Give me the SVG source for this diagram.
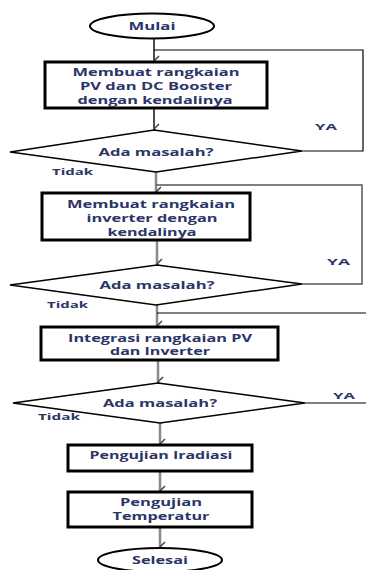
<svg xmlns="http://www.w3.org/2000/svg" width="366" height="570" viewBox="0 0 366 570">
<defs>
<style>
.bg{fill:#fff}
.box{fill:#fff;stroke:#000;stroke-width:3}
.term{fill:#fff;stroke:#000;stroke-width:2}
.dia{fill:#fff;stroke:#000;stroke-width:1.5}
.t{font-family:"Open Sans","Liberation Sans",sans-serif;font-weight:bold;font-size:10px;fill:#2b3566;text-anchor:middle}
.lbl{font-family:"Open Sans","Liberation Sans",sans-serif;font-weight:bold;font-size:8.5px;fill:#2b3566}
.c1{fill:none;stroke:#111;stroke-width:1.5}
.c2{fill:none;stroke:#8a8a8a;stroke-width:2.5}
.c3{fill:none;stroke:#000;stroke-width:1.2}
</style>
<marker id="ah" markerUnits="userSpaceOnUse" markerWidth="14" markerHeight="10" refX="7" refY="7" orient="auto-start-reverse" viewBox="0 0 14 10">
<path d="M2,2 L7,7 L12,2" fill="none" stroke="#444" stroke-width="1.5"/>
</marker>
</defs>
<rect class="bg" x="0" y="0" width="366" height="570"/>
<g id="connectors">
<line class="c1" x1="154" y1="39" x2="154" y2="61" marker-end="url(#ah)"/>
<polyline class="c3" points="302,151 363,151 363,50 154,50"/>
<line class="c1" x1="154" y1="108" x2="154" y2="129" marker-end="url(#ah)"/>
<line class="c2" x1="156" y1="172" x2="156" y2="192" marker-end="url(#ah)"/>
<polyline class="c3" points="302,284 362,284 362,185 156,185" style="stroke:#555;stroke-width:1.5"/>
<line class="c2" x1="157" y1="240" x2="157" y2="264" marker-end="url(#ah)"/>
<line class="c2" x1="157" y1="305" x2="157" y2="326" marker-end="url(#ah)"/>
<line class="c3" x1="157" y1="313" x2="366" y2="313"/>
<line class="c2" x1="158" y1="360" x2="158" y2="382" marker-end="url(#ah)"/>
<line class="c3" x1="305" y1="403" x2="366" y2="403"/>
<line class="c2" x1="160" y1="423" x2="160" y2="444" marker-end="url(#ah)"/>
<line class="c2" x1="160" y1="471" x2="160" y2="491" marker-end="url(#ah)"/>
<line class="c2" x1="160" y1="527" x2="160" y2="547" marker-end="url(#ah)"/>
</g>
<g id="mulai">
<ellipse class="term" cx="152" cy="26" rx="62" ry="12.5"/>
<text class="t" x="152" y="29.5" textLength="47" lengthAdjust="spacingAndGlyphs">Mulai</text>
</g>
<g id="box1">
<rect class="box" x="45" y="62" width="222" height="46"/>
<text class="t" x="156" y="75.5" textLength="167" lengthAdjust="spacingAndGlyphs">Membuat rangkaian</text>
<text class="t" x="156" y="89.5" textLength="152" lengthAdjust="spacingAndGlyphs">PV dan DC Booster</text>
<text class="t" x="155" y="103.5" textLength="155" lengthAdjust="spacingAndGlyphs">dengan kendalinya</text>
</g>
<g id="dec1">
<polygon class="dia" points="154,130 302,151 156,172 10,152"/>
<text class="t" x="156" y="155.5" textLength="115" lengthAdjust="spacingAndGlyphs">Ada masalah?</text>
<text class="lbl" x="315" y="130" textLength="22" lengthAdjust="spacingAndGlyphs">YA</text>
<text class="lbl" x="52" y="175" textLength="41" lengthAdjust="spacingAndGlyphs">Tidak</text>
</g>
<g id="box2">
<rect class="box" x="42" y="193" width="208" height="47"/>
<text class="t" x="151" y="207.5" textLength="168" lengthAdjust="spacingAndGlyphs">Membuat rangkaian</text>
<text class="t" x="152" y="221.5" textLength="131" lengthAdjust="spacingAndGlyphs">inverter dengan</text>
<text class="t" x="152" y="235.5" textLength="89" lengthAdjust="spacingAndGlyphs">kendalinya</text>
</g>
<g id="dec2">
<polygon class="dia" points="157,265 302,284 156,305 10,285"/>
<text class="t" x="157" y="288.5" textLength="115" lengthAdjust="spacingAndGlyphs">Ada masalah?</text>
<text class="lbl" x="327" y="265" textLength="23" lengthAdjust="spacingAndGlyphs">YA</text>
<text class="lbl" x="47" y="308" textLength="41" lengthAdjust="spacingAndGlyphs">Tidak</text>
</g>
<g id="box3">
<rect class="box" x="41" y="327" width="237" height="33"/>
<text class="t" x="160" y="341.5" textLength="184" lengthAdjust="spacingAndGlyphs">Integrasi rangkaian PV</text>
<text class="t" x="160" y="354.5" textLength="100" lengthAdjust="spacingAndGlyphs">dan Inverter</text>
</g>
<g id="dec3">
<polygon class="dia" points="158,383 305,403 160,423 13,403"/>
<text class="t" x="160" y="406.5" textLength="114" lengthAdjust="spacingAndGlyphs">Ada masalah?</text>
<text class="lbl" x="333" y="399" textLength="22" lengthAdjust="spacingAndGlyphs">YA</text>
<text class="lbl" x="38" y="420" textLength="42" lengthAdjust="spacingAndGlyphs">Tidak</text>
</g>
<g id="box4">
<rect class="box" x="68" y="445" width="184" height="26"/>
<text class="t" x="161" y="458.5" textLength="143" lengthAdjust="spacingAndGlyphs">Pengujian Iradiasi</text>
</g>
<g id="box5">
<rect class="box" x="68" y="492" width="184" height="35"/>
<text class="t" x="161" y="505.5" textLength="82" lengthAdjust="spacingAndGlyphs">Pengujian</text>
<text class="t" x="161" y="519.5" textLength="97" lengthAdjust="spacingAndGlyphs">Temperatur</text>
</g>
<g id="selesai">
<ellipse class="term" cx="160" cy="560" rx="62" ry="12"/>
<text class="t" x="160" y="564" textLength="56" lengthAdjust="spacingAndGlyphs">Selesai</text>
</g>
</svg>
